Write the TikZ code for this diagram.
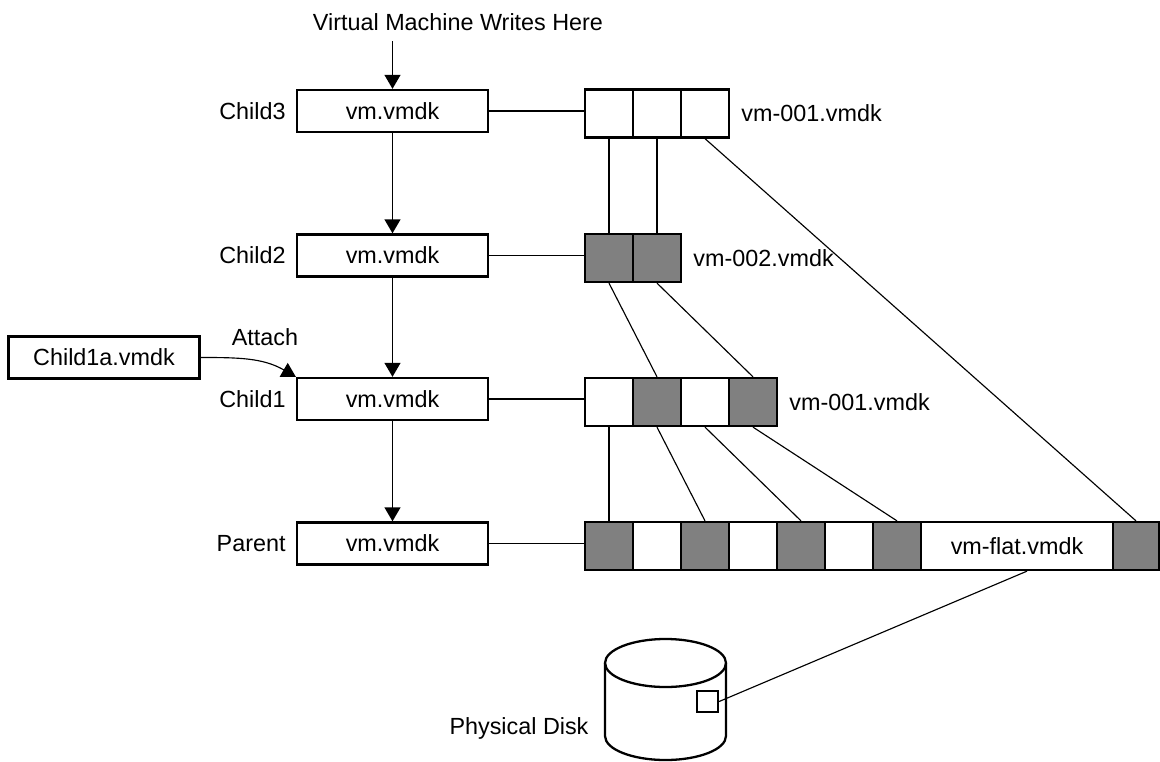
\documentclass[tikz,border=0pt]{standalone}
\usepackage{fontspec}
\setmainfont{Liberation Sans}
\usepackage{tikz}
\usetikzlibrary{arrows.meta,positioning,calc}

\begin{document}
\begin{tikzpicture}[x=0.02cm,y=0.02cm,
    font=\fontsize{13.3}{15}\selectfont,
    vmbox/.style={draw,line width=1.3pt,minimum width=3.82cm,minimum height=0.84cm,inner sep=0pt},
    blk/.style={draw,line width=1.3pt,minimum width=0.96cm,minimum height=0.96cm,inner sep=0pt},
    used/.style={blk,fill=gray},
    tag/.style={inner sep=0pt},
    link/.style={line width=0.65pt},
    conn/.style={line width=1.1pt},
    arr/.style={line width=1.1pt,-{Triangle[length=8pt,width=9pt]}}]
            \useasboundingbox (0,0) rectangle (1160,-761);

            % descriptor files of the chain
            \node[vmbox] (c3) at (392.5,-111) {vm.vmdk};
            \node[vmbox] (c2) at (392.5,-255.5) {vm.vmdk};
            \node[vmbox] (c1) at (392.5,-399) {vm.vmdk};
            \node[vmbox] (par) at (392.5,-543.5) {vm.vmdk};

            \node[tag,left=0.2cm of c3] (c3-lbl) {Child3};
            \node[tag,left=0.2cm of c2] (c2-lbl) {Child2};
            \node[tag,left=0.2cm of c1] (c1-lbl) {Child1};
            \node[tag,left=0.2cm of par] (par-lbl) {Parent};

            \node[tag] (vmtxt) at (458,-22) {Virtual Machine Writes Here};
            \coordinate (vmin) at (392.5,-41);
            \draw[arr] (vmin) -- (c3);
            \draw[arr] (c3) -- (c2);
            \draw[arr] (c2) -- (c1);
            \draw[arr] (c1) -- (par);

            \node[vmbox] (c1a) at (104,-357.5) {Child1a.vmdk};
            \draw[arr,line width=0.65pt] (c1a.east) to[out=0,in=150] (c1.north west);
            \node[tag] (attach) at (265,-337) {Attach};

            % data blocks
            \foreach \i/\x in {1/609,2/657,3/705}
                \node[blk] (a\i) at (\x,-113.5) {};
            \foreach \i/\x in {1/609,2/657}
                \node[used] (b\i) at (\x,-258) {};
            \foreach \i/\x/\s in {1/609/blk,2/657/used,3/705/blk,4/753/used}
                \node[\s] (d\i) at (\x,-402) {};
            \foreach \i/\x/\s in {1/609/used,2/657/blk,3/705/used,4/753/blk,5/801/used,6/849/blk,7/897/used}
                \node[\s] (p\i) at (\x,-546) {};
            \node[blk,minimum width=3.84cm] (pf) at (1017,-546) {vm-flat.vmdk};
            \node[used,minimum width=0.92cm] (p8) at (1136,-546) {};

            \node[tag,right=0.22cm of a3] (a-lbl) {vm-001.vmdk};
            \node[tag,right=0.22cm of b2] (b-lbl) {vm-002.vmdk};
            \node[tag,right=0.22cm of d4] (d-lbl) {vm-001.vmdk};

            \draw[conn] (c3.east) -- (c3.east -| a1.west);
            \draw[conn] (c2.east) -- (c2.east -| b1.west);
            \draw[conn] (c1.east) -- (c1.east -| d1.west);
            \draw[conn] (par.east) -- (par.east -| p1.west);

            \draw[link] (a1) -- (b1);
            \draw[link] (a2) -- (b2);
            \draw[link] (a3.south) -- (p8.north);
            \draw[link] (b1.south) -- (d2.north);
            \draw[link] (b2.south) -- (d4.north);
            \draw[link] (d1) -- (p1);
            \draw[link] (d2.south) -- (p3.north);
            \draw[link] (d3.south) -- (p5.north);
            \draw[link] (d4.south) -- (p7.north);

            % physical disk
            \draw[line width=1.3pt] (605,-663) -- (605,-736) arc[start angle=180,end angle=360,x radius=60.5,y radius=24] -- (726,-663);
            \draw[line width=1.3pt] (665.5,-663) ellipse [x radius=60.5,y radius=24];
            \node[draw,line width=1.3pt,minimum size=0.42cm,inner sep=0pt] (sec) at (707.5,-701.5) {};
            \node[tag] (disk-lbl) at (519,-728) {Physical Disk};
            \draw[link] ([xshift=0.2cm]pf.south) -- (sec.east);
        \end{tikzpicture}
\end{document}
